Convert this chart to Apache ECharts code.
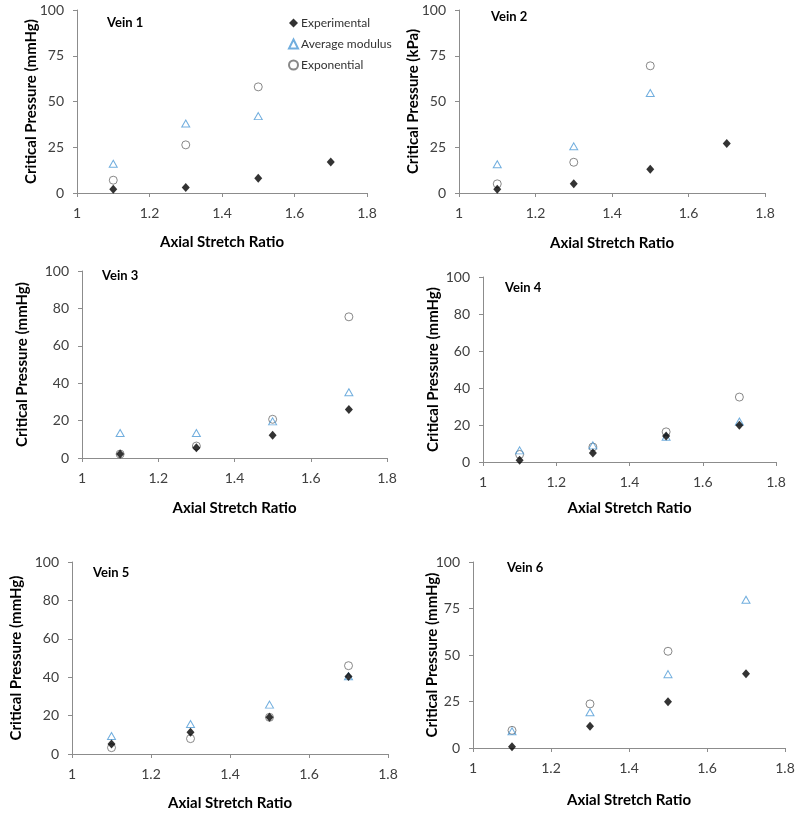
<!DOCTYPE html>
<html>
<head>
<meta charset="utf-8">
<script src="https://cdn.jsdelivr.net/npm/echarts@6/dist/echarts.min.js"></script>
<style>
html,body{margin:0;padding:0;background:#fff;}
#chart{width:800px;height:814px;}
</style>
</head>
<body>
<div id="chart"></div>
<script>
// ---- data ----
var stretchRatios = [1.1, 1.3, 1.5, 1.7];
var veinNames = ['Vein 1', 'Vein 2', 'Vein 3', 'Vein 4', 'Vein 5', 'Vein 6'];
var yAxisTitles = ['Critical Pressure (mmHg)', 'Critical Pressure (kPa)', 'Critical Pressure (mmHg)',
                   'Critical Pressure (mmHg)', 'Critical Pressure (mmHg)', 'Critical Pressure (mmHg)'];
var yIntervals = [25, 25, 20, 20, 20, 25];

var experimental1 = [2, 3, 8, 17];
var average1      = [16, 38, 42, null];
var exponential1  = [7, 26.3, 58, null];

var experimental2 = [2, 5, 13, 27];
var average2      = [15.7, 25.5, 54.6, null];
var exponential2  = [5, 16.8, 69.5, null];

var experimental3 = [2.1, 5.5, 12.1, 26];
var average3      = [13.4, 13.4, 19.6, 35.2];
var exponential3  = [2.1, 6.4, 20.7, 75.5];

var experimental4 = [1, 4.9, 14.1, 19.9];
var average4      = [6.3, 9, 13.6, 21.9];
var exponential4  = [4.1, 8.1, 16.3, 35.1];

var experimental5 = [5.2, 11.3, 19.1, 40.3];
var average5      = [9.4, 15.6, 25.7, 40.5];
var exponential5  = [3.3, 8, 19.1, 46];

var experimental6 = [0.7, 11.7, 24.8, 39.9];
var average6      = [9, 19.2, 39.7, 79.7];
var exponential6  = [9.5, 23.7, 52, null];

var experimentalAll = [experimental1, experimental2, experimental3, experimental4, experimental5, experimental6];
var averageAll = [average1, average2, average3, average4, average5, average6];
var exponentialAll = [exponential1, exponential2, exponential3, exponential4, exponential5, exponential6];

// ---- layout ----
var grids = [
  {left: 77, top: 10, width: 290, height: 183},
  {left: 459, top: 10, width: 306, height: 183},
  {left: 82, top: 271, width: 305, height: 187},
  {left: 483, top: 277, width: 293, height: 185},
  {left: 72, top: 562, width: 316, height: 192},
  {left: 473, top: 562, width: 312, height: 186}
];
var yNameGaps = [38, 38, 52, 42, 48, 33];
var xNameGaps = [42, 43, 43, 39, 42, 45];
var veinLabelPos = [
  {left: 107, top: 16}, {left: 491, top: 10}, {left: 102, top: 269},
  {left: 505, top: 281}, {left: 93, top: 566}, {left: 507, top: 561}
];

var FONT = 'Lato, "Liberation Sans", sans-serif';
var axisLineStyle = {color: '#8c8c8c', width: 1};
var avgColor = '#4d9ad6';
var expoColor = '#6a6a6a';

function pairs(arr) {
  var out = [];
  for (var i = 0; i < arr.length; i++) {
    if (arr[i] !== null) out.push([stretchRatios[i], arr[i]]);
  }
  return out;
}

var xAxes = [], yAxes = [], series = [], titles = [];
for (var g = 0; g < 6; g++) {
  xAxes.push({
    type: 'value', gridIndex: g, min: 1, max: 1.8, interval: 0.2,
    axisLine: {show: true, lineStyle: axisLineStyle},
    axisTick: {show: true, length: 4, lineStyle: axisLineStyle},
    splitLine: {show: false},
    axisLabel: {color: '#404040', fontSize: 14, fontFamily: FONT, margin: 13,
      formatter: function (v) { return (Math.round(v * 10) / 10).toString(); }},
    name: 'Axial Stretch Ratio', nameLocation: 'middle', nameGap: xNameGaps[g],
    nameMoveOverlap: false,
    nameTextStyle: {color: '#000', fontSize: 15, fontWeight: 'bold', fontFamily: FONT}
  });
  yAxes.push({
    type: 'value', gridIndex: g, min: 0, max: 100, interval: yIntervals[g],
    axisLine: {show: true, lineStyle: axisLineStyle},
    axisTick: {show: true, length: 4, lineStyle: axisLineStyle},
    splitLine: {show: false},
    axisLabel: {color: '#404040', fontSize: 14, fontFamily: FONT, margin: 13},
    name: yAxisTitles[g], nameLocation: 'middle', nameGap: yNameGaps[g],
    nameMoveOverlap: false,
    nameTextStyle: {color: '#000', fontSize: 15, fontWeight: 'bold', fontFamily: FONT}
  });
  titles.push({
    text: veinNames[g], left: veinLabelPos[g].left, top: veinLabelPos[g].top, padding: 0,
    textStyle: {fontSize: 13, fontWeight: 'bold', color: '#000', fontFamily: FONT}
  });
  series.push({
    name: 'Exponential', type: 'scatter', xAxisIndex: g, yAxisIndex: g,
    symbol: 'circle', symbolSize: 8,
    itemStyle: {color: 'rgba(255,255,255,0)', borderColor: expoColor, borderWidth: 1},
    data: pairs(exponentialAll[g]), z: 2
  });
  series.push({
    name: 'Average modulus', type: 'scatter', xAxisIndex: g, yAxisIndex: g,
    symbol: 'triangle', symbolSize: [8, 7],
    itemStyle: {color: 'rgba(255,255,255,0)', borderColor: avgColor, borderWidth: 1},
    data: pairs(averageAll[g]), z: 3
  });
  series.push({
    name: 'Experimental', type: 'scatter', xAxisIndex: g, yAxisIndex: g,
    symbol: 'diamond', symbolSize: [8, 9],
    itemStyle: {color: '#000'},
    data: pairs(experimentalAll[g]), z: 4
  });
}

var chart = echarts.init(document.getElementById('chart'), null, {renderer: 'canvas'});
chart.setOption({
  animation: false,
  backgroundColor: '#fff',
  title: titles,
  grid: grids,
  xAxis: xAxes,
  yAxis: yAxes,
  legend: {
    data: ['Experimental', 'Average modulus', 'Exponential'],
    orient: 'vertical', left: 288, top: 17, padding: 0,
    itemWidth: 9, itemHeight: 9, itemGap: 9,
    textStyle: {fontSize: 12, color: '#333', fontFamily: FONT, padding: [0, 0, 0, -2]}
  },
  series: series
});
</script>
</body>
</html>
